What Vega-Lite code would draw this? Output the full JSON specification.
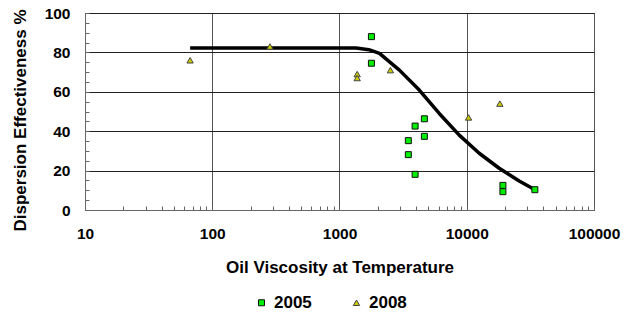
{
  "$schema": "https://vega.github.io/schema/vega-lite/v6.json",
  "width": 509,
  "height": 197,
  "autosize": {"type": "none"},
  "padding": {"left": 85, "top": 13, "right": 29, "bottom": 104},
  "background": "white",
  "data": {"values": [
    {"series": "2008", "visc": 67, "eff": 76},
    {"series": "2008", "visc": 284, "eff": 83},
    {"series": "2008", "visc": 1377, "eff": 69},
    {"series": "2008", "visc": 1377, "eff": 67},
    {"series": "2008", "visc": 2512, "eff": 71},
    {"series": "2008", "visc": 10330, "eff": 47},
    {"series": "2008", "visc": 18200, "eff": 54},
    {"series": "2005", "visc": 1782, "eff": 88},
    {"series": "2005", "visc": 1782, "eff": 74.5},
    {"series": "2005", "visc": 4645, "eff": 46.3},
    {"series": "2005", "visc": 3928, "eff": 42.6},
    {"series": "2005", "visc": 4645, "eff": 37.4},
    {"series": "2005", "visc": 3475, "eff": 35.2},
    {"series": "2005", "visc": 3475, "eff": 28.1},
    {"series": "2005", "visc": 3928, "eff": 18.1},
    {"series": "2005", "visc": 19240, "eff": 12.5},
    {"series": "2005", "visc": 19240, "eff": 9.3},
    {"series": "2005", "visc": 34300, "eff": 10.3},
    {"series": "curve", "visc": 67, "eff": 82.2},
    {"series": "curve", "visc": 1352, "eff": 82.2},
    {"series": "curve", "visc": 1700, "eff": 81.4},
    {"series": "curve", "visc": 2061, "eff": 79.5},
    {"series": "curve", "visc": 2957, "eff": 71},
    {"series": "curve", "visc": 4237, "eff": 60.9},
    {"series": "curve", "visc": 6079, "eff": 49},
    {"series": "curve", "visc": 8730, "eff": 38},
    {"series": "curve", "visc": 12530, "eff": 28.8},
    {"series": "curve", "visc": 17990, "eff": 21.2},
    {"series": "curve", "visc": 25820, "eff": 14.7},
    {"series": "curve", "visc": 33830, "eff": 10.5}
  ]},
  "encoding": {
    "x": {
      "field": "visc", "type": "quantitative",
      "scale": {"type": "log", "domain": [10, 100000], "nice": false},
      "axis": {
        "title": "Oil Viscosity at Temperature",
        "values": [10,20,30,40,50,60,70,80,90,100,200,300,400,500,600,700,800,900,1000,2000,3000,4000,5000,6000,7000,8000,9000,10000,20000,30000,40000,50000,60000,70000,80000,90000,100000],
        "labelExpr": "abs(log(datum.value)/LN10 - round(log(datum.value)/LN10)) < 0.001 ? datum.label : ''",
        "format": "d",
        "labelFlush": false,
        "labelOverlap": false,
        "tickSize": -4,
        "labelPadding": 20,
        "titlePadding": 18,
        "grid": true,
        "gridColor": "#555",
        "gridOpacity": {"condition": {"test": "abs(log(datum.value)/LN10 - round(log(datum.value)/LN10)) < 0.001", "value": 1}, "value": 0}
      }
    },
    "y": {
      "field": "eff", "type": "quantitative",
      "scale": {"domain": [0, 100], "nice": false},
      "axis": {
        "title": "Dispersion Effectiveness %",
        "values": [0,5,10,15,20,25,30,35,40,45,50,55,60,65,70,75,80,85,90,95,100],
        "labelExpr": "datum.value % 20 == 0 ? datum.label : ''",
        "tickSize": -4,
        "labelPadding": 19,
        "titlePadding": 15,
        "titleY": 107,
        "grid": true,
        "gridColor": "#222",
        "gridOpacity": {"condition": {"test": "datum.value % 20 == 0", "value": 1}, "value": 0}
      }
    }
  },
  "layer": [
    {
      "transform": [{"filter": "datum.series == 'curve'"}],
      "mark": {"type": "line", "color": "#000", "strokeWidth": 3.5, "strokeJoin": "round"},
      "encoding": {"order": {"field": "visc", "type": "quantitative"}}
    },
    {
      "transform": [{"filter": "datum.series != 'curve'"}],
      "mark": {"type": "point", "filled": true, "opacity": 1, "strokeWidth": 1},
      "encoding": {
        "shape": {"field": "series", "type": "nominal", "title": null,
          "scale": {"domain": ["2005", "2008"], "range": ["square", "triangle-up"]}},
        "color": {"field": "series", "type": "nominal", "title": null,
          "scale": {"domain": ["2005", "2008"], "range": ["#00ee00", "#cccc00"]}},
        "stroke": {"field": "series", "type": "nominal", "title": null,
          "scale": {"domain": ["2005", "2008"], "range": ["#111", "#444"]}},
        "size": {"field": "series", "type": "nominal", "title": null,
          "scale": {"domain": ["2005", "2008"], "range": [36, 40]}}
      }
    }
  ],
  "config": {
    "view": {"stroke": "#555", "strokeWidth": 1},
    "font": "Liberation Sans",
    "axis": {
      "labelFont": "Liberation Sans", "labelFontWeight": "bold", "labelFontSize": 15.5, "labelColor": "#000",
      "titleFont": "Liberation Sans", "titleFontWeight": "bold", "titleFontSize": 17, "titleColor": "#000",
      "domainColor": "#666", "tickColor": "#666"
    },
    "legend": {
      "orient": "none", "legendX": 168, "legendY": 281, "direction": "horizontal",
      "labelFont": "Liberation Sans", "labelFontWeight": "bold", "labelFontSize": 17, "labelColor": "#000",
      "columnPadding": 36, "symbolStrokeWidth": 1,
      "labelLimit": 100
    }
  }
}
